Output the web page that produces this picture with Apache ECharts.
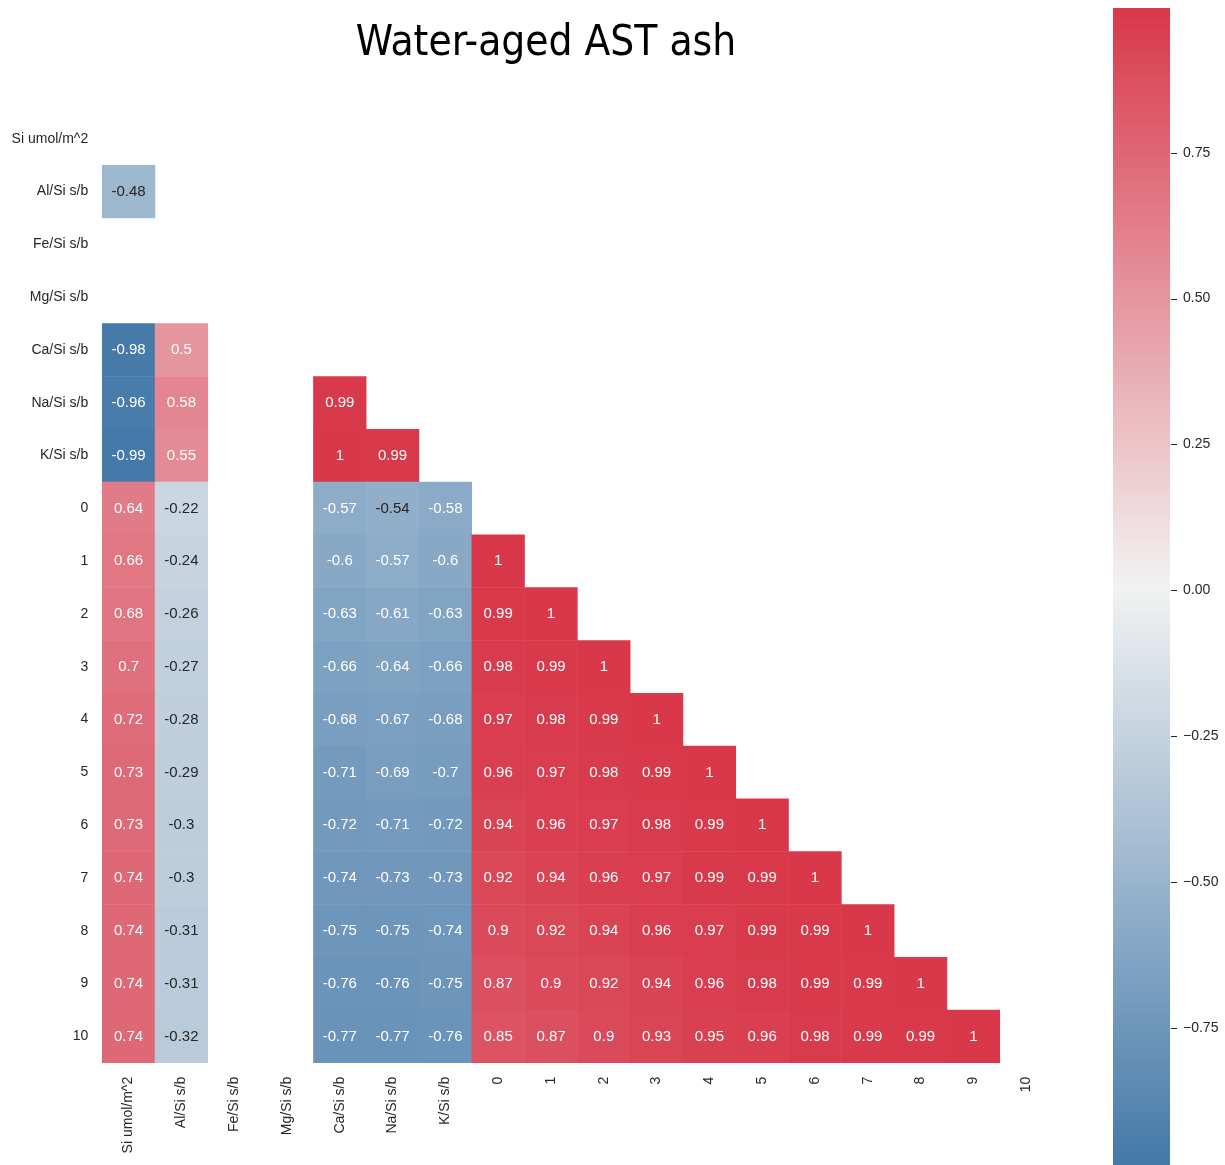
<!DOCTYPE html>
<html>
<head>
<meta charset="utf-8">
<title>Water-aged AST ash</title>
<script src="https://cdn.jsdelivr.net/npm/echarts@6/dist/echarts.min.js"></script>
<style>
  html, body { margin: 0; padding: 0; background: #ffffff; }
  #chart { width: 1225px; height: 1165px; }
</style>
</head>
<body>
<div id="chart"></div>
<script>
// Variable names, in row/column order of the correlation matrix
const variables = [
  'Si umol/m^2', 'Al/Si s/b', 'Fe/Si s/b', 'Mg/Si s/b', 'Ca/Si s/b', 'Na/Si s/b', 'K/Si s/b',
  '0', '1', '2', '3', '4', '5', '6', '7', '8', '9', '10'
];

// Lower triangle of the correlation matrix, one array per row (null = no value)
const rowSi = [];
const rowAl = [-0.48];
const rowFe = [null, null];
const rowMg = [null, null, null];
const rowCa = [-0.98, 0.5, null, null];
const rowNa = [-0.96, 0.58, null, null, 0.99];
const rowK  = [-0.99, 0.55, null, null, 1, 0.99];
const row0  = [0.64, -0.22, null, null, -0.57, -0.54, -0.58];
const row1  = [0.66, -0.24, null, null, -0.6, -0.57, -0.6, 1];
const row2  = [0.68, -0.26, null, null, -0.63, -0.61, -0.63, 0.99, 1];
const row3  = [0.7, -0.27, null, null, -0.66, -0.64, -0.66, 0.98, 0.99, 1];
const row4  = [0.72, -0.28, null, null, -0.68, -0.67, -0.68, 0.97, 0.98, 0.99, 1];
const row5  = [0.73, -0.29, null, null, -0.71, -0.69, -0.7, 0.96, 0.97, 0.98, 0.99, 1];
const row6  = [0.73, -0.3, null, null, -0.72, -0.71, -0.72, 0.94, 0.96, 0.97, 0.98, 0.99, 1];
const row7  = [0.74, -0.3, null, null, -0.74, -0.73, -0.73, 0.92, 0.94, 0.96, 0.97, 0.99, 0.99, 1];
const row8  = [0.74, -0.31, null, null, -0.75, -0.75, -0.74, 0.9, 0.92, 0.94, 0.96, 0.97, 0.99, 0.99, 1];
const row9  = [0.74, -0.31, null, null, -0.76, -0.76, -0.75, 0.87, 0.9, 0.92, 0.94, 0.96, 0.98, 0.99, 0.99, 1];
const row10 = [0.74, -0.32, null, null, -0.77, -0.77, -0.76, 0.85, 0.87, 0.9, 0.93, 0.95, 0.96, 0.98, 0.99, 0.99, 1];

const matrixRows = [rowSi, rowAl, rowFe, rowMg, rowCa, rowNa, rowK,
  row0, row1, row2, row3, row4, row5, row6, row7, row8, row9, row10];

// Colour scale limits and colour-bar ticks
const scaleMin = -0.985;
const scaleMax = 0.998;
const colorbarTicks = [-0.75, -0.5, -0.25, 0, 0.25, 0.5, 0.75];

// Diverging blue - light grey - red palette
const palette = ['#4479a9', '#f2f2f2', '#d8384a'];

function hexToRgb(h) {
  return [parseInt(h.slice(1, 3), 16), parseInt(h.slice(3, 5), 16), parseInt(h.slice(5, 7), 16)];
}
function colorFor(v) {
  let t = (v - scaleMin) / (scaleMax - scaleMin);
  t = Math.max(0, Math.min(1, t));
  const seg = t < 0.5 ? 0 : 1;
  const f = seg === 0 ? t / 0.5 : (t - 0.5) / 0.5;
  const a = hexToRgb(palette[seg]), b = hexToRgb(palette[seg + 1]);
  return a.map((c, i) => c + f * (b[i] - c));
}
function luminance(rgb) {
  const lin = rgb.map(c => {
    c = c / 255;
    return c <= 0.03928 ? c / 12.92 : Math.pow((c + 0.055) / 1.055, 2.4);
  });
  return 0.2126 * lin[0] + 0.7152 * lin[1] + 0.0722 * lin[2];
}

// Heatmap cells: [column, row, value]; dark text on light cells, white on dark
const cells = [];
matrixRows.forEach((row, r) => {
  row.forEach((v, c) => {
    if (v === null) return;
    const textColor = luminance(colorFor(v)) > 0.41 ? '#262626' : '#ffffff';
    cells.push({ value: [c, r, v], label: { color: textColor } });
  });
});

const labelFont = "'Liberation Sans', Arial, sans-serif";
const inkColor = '#262626';

const chart = echarts.init(document.getElementById('chart'), null, { renderer: 'canvas' });

const gradientStops = [
  { offset: 0, color: palette[2] },
  { offset: 0.5, color: palette[1] },
  { offset: 1, color: palette[0] }
];

chart.setOption({
  backgroundColor: '#ffffff',
  animation: false,
  title: {
    text: 'Water-aged AST ash',
    left: 541,
    top: 18,
    textAlign: 'center',
    textStyle: {
      fontFamily: "'DejaVu Sans Condensed', 'DejaVu Sans', sans-serif",
      fontWeight: 'normal',
      fontSize: 42,
      color: '#000000'
    }
  },
  grid: [
    { left: 102.2, top: 112.4, width: 950.4, height: 950.4, outerBoundsMode: 'none', containLabel: false },
    { left: 1113, top: 8, width: 57, height: 1157, outerBoundsMode: 'none', containLabel: false }
  ],
  xAxis: [
    {
      type: 'category',
      gridIndex: 0,
      data: variables,
      position: 'bottom',
      axisLine: { show: false },
      axisTick: { show: false },
      splitLine: { show: false },
      axisLabel: {
        rotate: 90,
        interval: 0,
        margin: 14,
        fontFamily: labelFont,
        fontSize: 14,
        color: inkColor
      }
    },
    {
      type: 'value',
      gridIndex: 1,
      min: 0,
      max: 1,
      show: false
    }
  ],
  yAxis: [
    {
      type: 'category',
      gridIndex: 0,
      data: variables,
      inverse: true,
      axisLine: { show: false },
      axisTick: { show: false },
      splitLine: { show: false },
      axisLabel: {
        interval: 0,
        margin: 14,
        fontFamily: labelFont,
        fontSize: 14,
        color: inkColor
      }
    },
    {
      type: 'value',
      gridIndex: 1,
      position: 'right',
      min: scaleMin,
      max: scaleMax,
      axisLine: { show: false },
      splitLine: { show: false },
      axisTick: { show: false },
      axisLabel: {
        customValues: colorbarTicks,
        margin: 13,
        fontFamily: labelFont,
        fontSize: 14,
        color: inkColor,
        formatter: v => (v < 0 ? '\u2212' : '') + Math.abs(v).toFixed(2)
      }
    }
  ],
  visualMap: {
    show: false,
    type: 'continuous',
    seriesIndex: 0,
    dimension: 2,
    min: scaleMin,
    max: scaleMax,
    inRange: { color: palette }
  },
  series: [
    {
      type: 'heatmap',
      xAxisIndex: 0,
      yAxisIndex: 0,
      data: cells,
      itemStyle: { borderWidth: 0 },
      label: {
        show: true,
        fontFamily: labelFont,
        fontSize: 15,
        formatter: p => String(p.value[2])
      },
      emphasis: { disabled: true }
    },
    {
      // Colour bar drawn on its own value axis
      type: 'custom',
      xAxisIndex: 1,
      yAxisIndex: 1,
      data: [[0, scaleMax, 1, scaleMin]],
      renderItem: (params, api) => {
        const p0 = api.coord([api.value(0), api.value(1)]);
        const p1 = api.coord([api.value(2), api.value(3)]);
        return {
          type: 'rect',
          shape: { x: p0[0], y: p0[1], width: p1[0] - p0[0], height: p1[1] - p0[1] },
          style: { fill: new echarts.graphic.LinearGradient(0, 0, 0, 1, gradientStops) }
        };
      },
      silent: true
    },
    {
      // Short tick marks on the right edge of the colour bar
      type: 'custom',
      xAxisIndex: 1,
      yAxisIndex: 1,
      data: colorbarTicks.map(v => [1, v]),
      clip: false,
      renderItem: (params, api) => {
        const p = api.coord([api.value(0), api.value(1)]);
        const y = Math.round(p[1]) + 0.5;
        return {
          type: 'line',
          shape: { x1: p[0] + 1, y1: y, x2: p[0] + 7, y2: y },
          style: { stroke: inkColor, lineWidth: 1 }
        };
      },
      silent: true
    }
  ]
});
</script>
</body>
</html>
